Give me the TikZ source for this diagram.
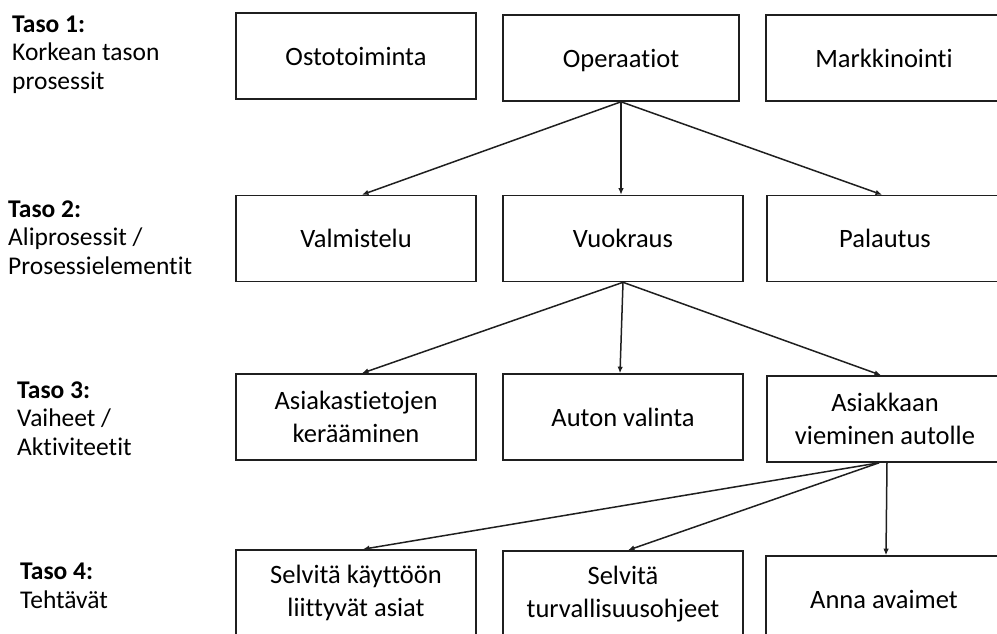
\documentclass[tikz,border=0pt]{standalone}
\usepackage{fontspec}
\setmainfont{Carlito}[Ligatures=NoCommon]
\usetikzlibrary{arrows.meta}
\begin{document}
\begin{tikzpicture}[x=1pt,y=-1pt,
  box/.style={draw=black!88, line width=1.6pt, align=center,
    font=\fontsize{26.5}{33}\selectfont, inner sep=0pt,
    minimum width=240pt, minimum height=86pt},
  wbox/.style={box, minimum width=236pt},
  lvl/.style={anchor=base west, align=left, inner sep=0pt,
    font=\fontsize{25.5}{28.5}\selectfont},
  link/.style={draw=black!88, line width=1.5pt, -{Latex[length=6.5pt,width=5.5pt]}}]
\useasboundingbox (0,0) rectangle (997,633);

% level captions (anchored on the baseline of their last line)
\node[lvl] (t1) at (12,89) {\textbf{Taso 1:}\\Korkean tason\\prosessit};
\node[lvl] (t2) at (8,274) {\textbf{Taso 2:}\\Aliprosessit /\\Prosessielementit};
\node[lvl] (t3) at (17,455) {\textbf{Taso 3:}\\Vaiheet /\\Aktiviteetit};
\node[lvl] (t4) at (20,608) {\textbf{Taso 4:}\\Tehtävät};

\begin{scope}
\clip (0,0) rectangle (997,633);
% level 1
\node[box]  (ost) at (356,56)   {Ostotoiminta};
\node[wbox, text depth=0pt] (ope) at (621,58) {Operaatiot};
\node[wbox] (mar) at (884,58)   {Markkinointi};
% level 2
\node[box]  (val) at (356,238.5) {Valmistelu};
\node[box]  (vuo) at (623,238.5) {Vuokraus};
\node[wbox] (pal) at (885,238.5) {Palautus};
% level 3
\node[box]  (asi) at (356,417)  {Asiakastietojen\\kerääminen};
\node[box]  (aut) at (623,417)  {Auton valinta};
\node[wbox] (vie) at (885,419)  {Asiakkaan\\vieminen autolle};
% level 4
\node[box]  (kay) at (356,593)  {Selvitä käyttöön\\liittyvät asiat};
\node[box]  (tur) at (623,594)  {Selvitä\\turvallisuusohjeet};
\node[wbox] (ava) at (884,599)  {Anna avaimet};
\end{scope}

% connectors
\draw[link] (ope.south) -- ([xshift=6pt]val.north);
\draw[link] (ope.south) -- (vuo.north -| ope.south);
\draw[link] (ope.south) -- ([xshift=-3pt]pal.north);

\draw[link] (vuo.south) -- ([xshift=6pt]asi.north);
\draw[link] (vuo.south) -- ([xshift=-3pt]aut.north);
\draw[link] (vuo.south) -- ([xshift=-4pt]vie.north);

\draw[link] ([xshift=-6pt]vie.south) -- ([xshift=7pt]kay.north);
\draw[link] ([xshift=-6pt]vie.south) -- ([xshift=5pt]tur.north);
\draw[link] ([xshift=2pt]vie.south) -- ([xshift=2pt]ava.north);
\end{tikzpicture}
\end{document}
